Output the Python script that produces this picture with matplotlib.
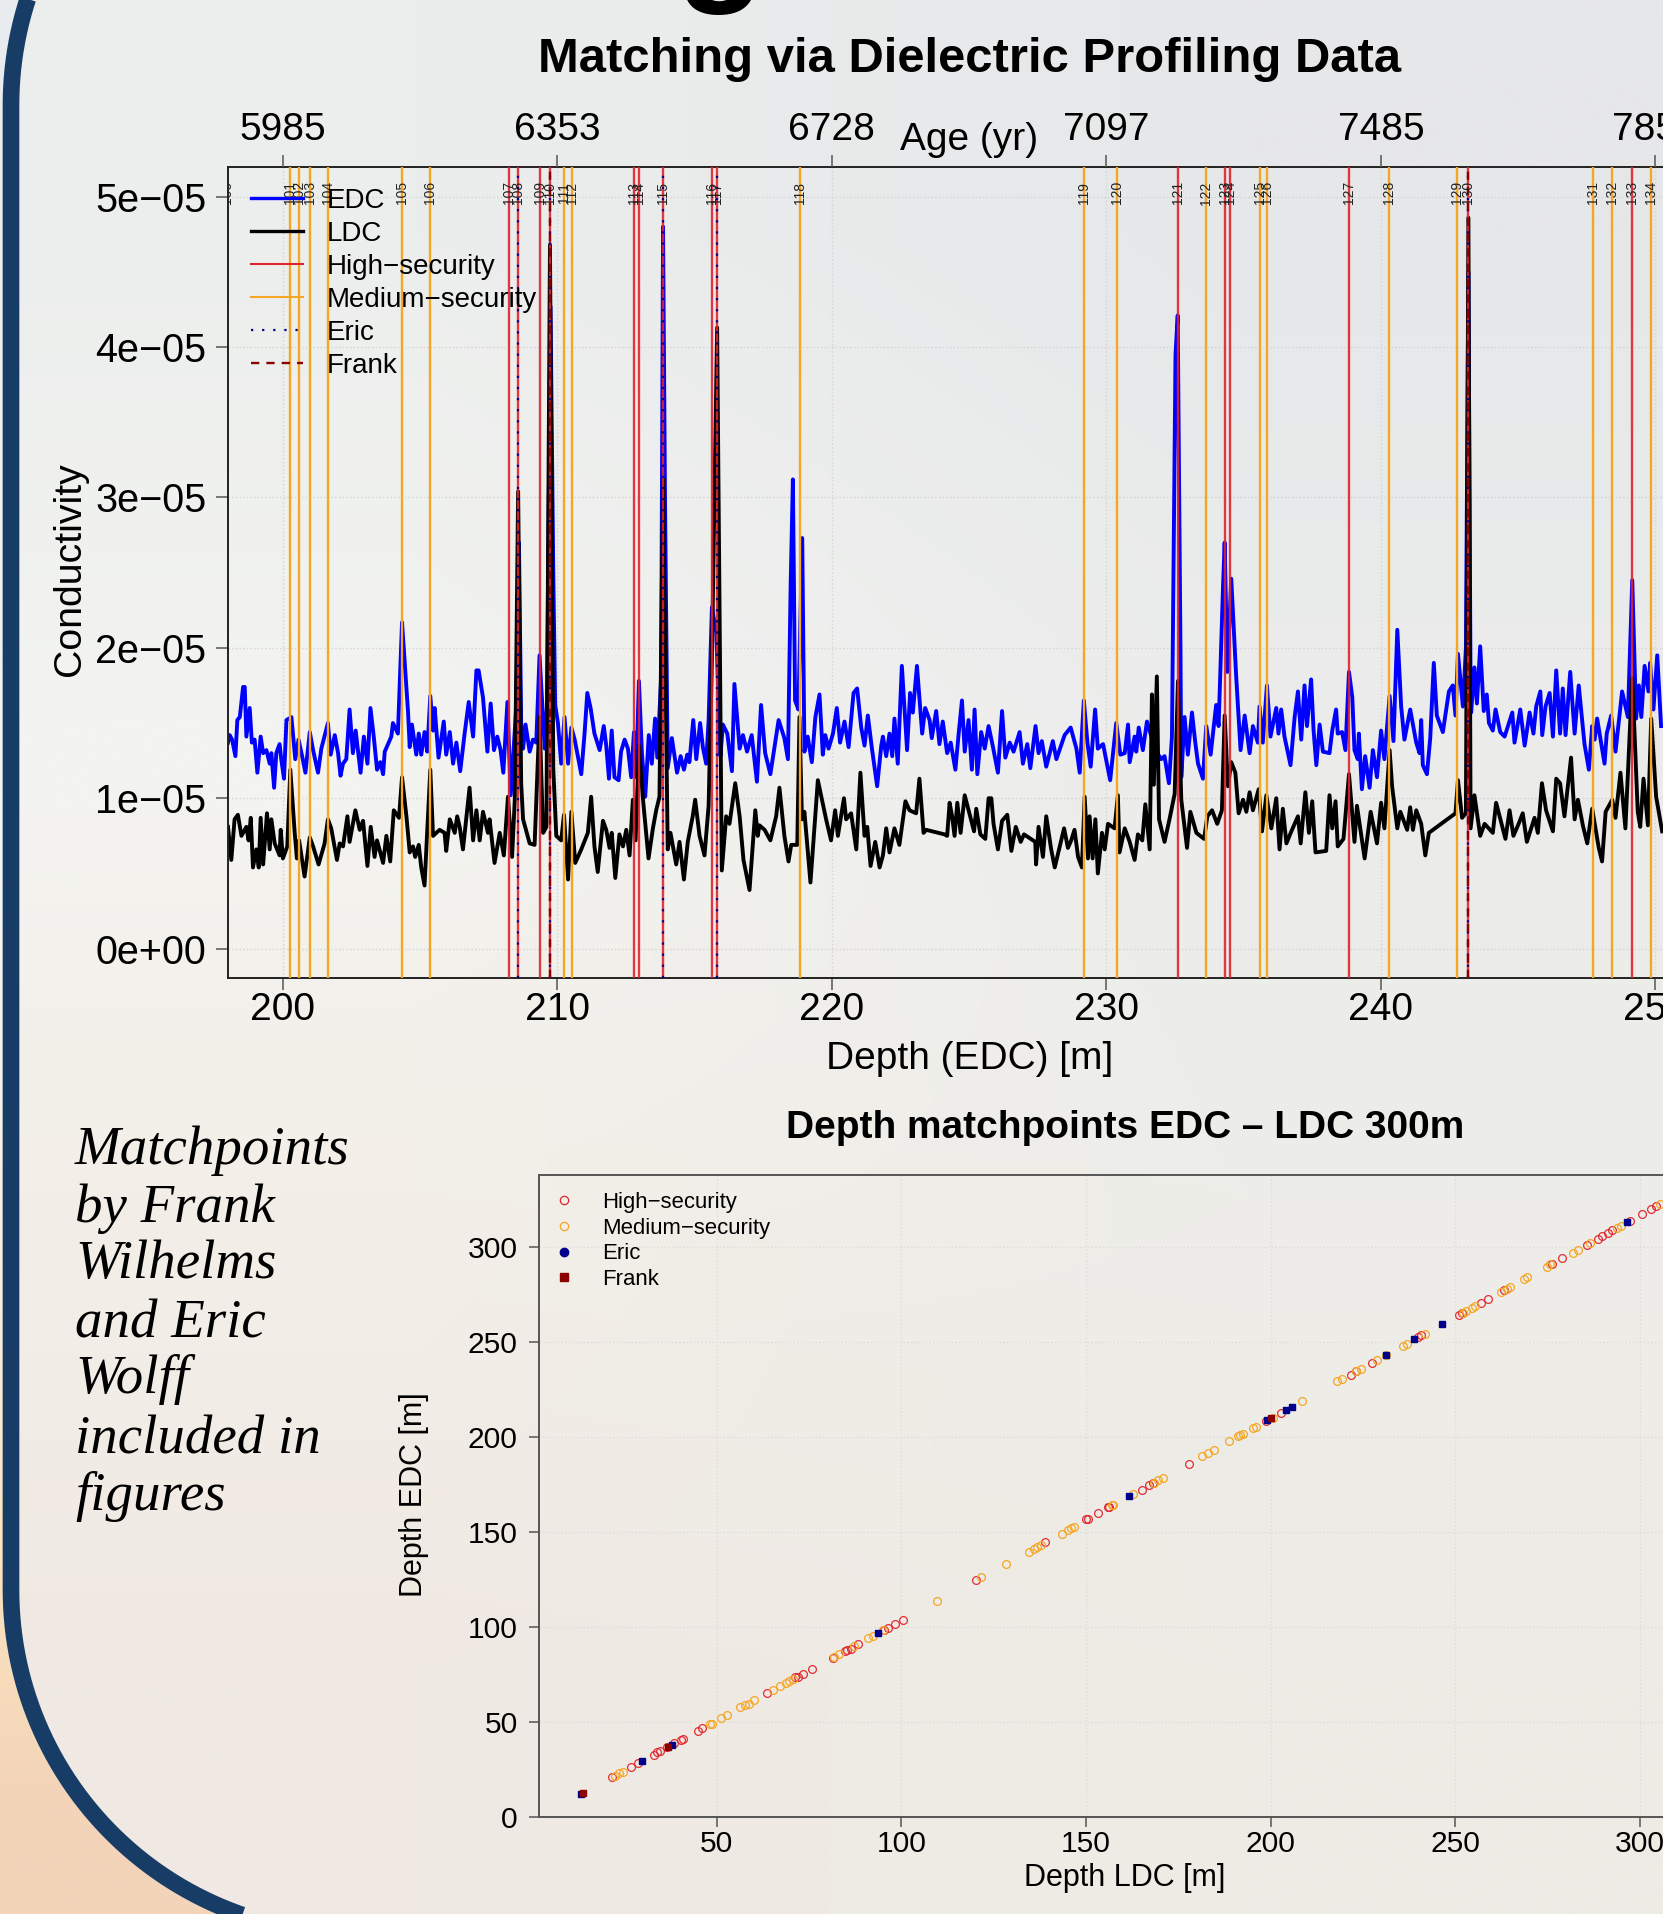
import matplotlib
matplotlib.use("Agg")
import matplotlib.pyplot as plt
from matplotlib.lines import Line2D
from matplotlib.path import Path
from matplotlib.patches import PathPatch
import numpy as np

# conductivity is in units of 1e-5
edc_depth = [198.00,198.06,198.15,198.27,198.34,198.43,198.55,198.61,198.67,198.79,198.87,198.97,199.07,199.19,199.28,199.40,199.52,199.58,199.68,199.76,199.88,199.94,200.04,200.13,200.31,200.45,200.57,200.70,200.82,200.98,201.10,201.28,201.40,201.64,201.74,201.89,202.01,202.10,202.19,202.31,202.43,202.55,202.65,202.83,202.95,203.08,203.19,203.31,203.43,203.55,203.65,203.71,203.95,204.01,204.19,204.34,204.56,204.62,204.70,204.86,204.95,205.04,205.16,205.26,205.37,205.47,205.53,205.67,205.86,205.95,206.08,206.20,206.32,206.46,206.62,206.77,206.93,207.05,207.13,207.29,207.45,207.57,207.69,207.81,207.93,208.03,208.18,208.30,208.50,208.60,208.68,208.75,208.84,208.99,209.11,209.23,209.35,209.54,209.62,209.75,209.85,209.92,210.02,210.14,210.26,210.39,210.51,210.63,210.87,210.99,211.09,
    211.21,211.35,211.54,211.69,211.78,211.88,211.98,212.08,212.23,212.32,212.45,212.57,212.69,212.79,212.87,212.97,213.08,213.20,213.33,213.44,213.56,213.64,213.78,213.85,213.92,214.02,214.17,214.36,214.49,214.61,214.73,214.81,214.95,215.06,215.20,215.30,215.42,215.51,215.63,215.79,215.94,216.03,216.19,216.36,216.45,216.64,216.76,216.91,217.08,217.27,217.42,217.57,217.76,218.06,218.27,218.40,218.50,218.58,218.66,218.78,218.92,219.00,219.12,219.27,219.40,219.55,219.67,219.76,219.88,220.04,220.18,220.30,220.46,220.61,220.79,220.92,221.07,221.19,221.31,221.46,221.65,221.80,221.86,221.98,222.10,222.20,222.28,222.40,222.55,222.74,222.85,222.95,223.10,223.29,223.40,223.56,223.64,223.80,223.92,224.04,224.20,
    224.33,224.50,224.62,224.74,224.84,224.98,225.10,225.20,225.30,225.44,225.57,225.71,225.87,226.05,226.20,226.32,226.48,226.62,226.84,226.96,227.12,227.23,227.42,227.53,227.65,227.81,228.05,228.18,228.48,228.70,228.91,229.03,229.18,229.31,229.43,229.59,229.69,229.88,230.14,230.36,230.51,230.67,230.79,230.85,231.03,231.09,231.18,231.33,231.48,231.64,231.82,232.00,232.12,232.28,232.39,232.52,232.60,232.70,232.73,232.85,232.97,233.12,233.24,233.34,233.52,233.64,233.80,234.00,234.09,234.25,234.31,234.41,234.55,234.73,234.89,235.04,235.22,235.34,235.52,235.58,235.70,235.85,235.98,236.19,236.27,236.37,236.49,236.71,236.86,236.98,237.10,237.22,
    237.31,237.46,237.55,237.65,237.77,237.89,238.13,238.23,238.37,238.43,238.59,238.71,238.84,238.96,239.04,239.16,239.20,239.31,239.43,239.59,239.71,239.86,240.01,240.13,240.32,240.46,240.60,240.74,240.86,241.07,241.29,241.41,241.47,241.53,241.68,241.80,241.93,242.04,242.26,242.48,242.62,242.72,242.81,242.99,243.10,243.19,243.27,243.29,243.41,243.50,243.62,243.75,243.86,243.94,244.08,244.18,244.35,244.51,244.79,244.87,245.08,245.24,245.42,245.56,245.66,245.81,245.88,246.00,246.15,246.27,246.39,246.53,246.63,246.73,246.90,247.06,247.21,247.42,247.58,247.70,247.79,247.88,248.15,248.23,248.39,248.55,248.79,249.00,249.16,249.30,249.40,249.49,249.61,249.75,249.81,249.93,250.07,250.21]
edc_cond = [1.37,1.42,1.39,1.28,1.52,1.54,1.74,1.74,1.41,1.60,1.37,1.39,1.17,1.41,1.30,1.32,1.23,1.30,1.07,1.30,1.36,1.26,1.13,1.52,1.54,1.26,1.39,1.28,1.17,1.44,1.32,1.17,1.33,1.50,1.29,1.42,1.30,1.15,1.23,1.26,1.59,1.30,1.45,1.17,1.41,1.23,1.60,1.41,1.19,1.24,1.16,1.31,1.41,1.50,1.43,2.17,1.57,1.34,1.49,1.29,1.43,1.29,1.44,1.31,1.68,1.45,1.60,1.27,1.51,1.29,1.44,1.23,1.37,1.18,1.43,1.64,1.41,1.85,1.85,1.67,1.31,1.63,1.32,1.41,1.32,1.17,1.64,1.02,1.60,2.70,1.50,1.33,1.49,1.31,1.39,1.37,1.95,1.33,1.60,4.27,2.50,1.62,1.50,1.23,1.54,1.23,1.47,1.39,1.16,1.43,1.70,
    1.60,1.43,1.32,1.48,1.35,1.13,1.45,1.14,1.12,1.31,1.39,1.33,1.14,1.44,1.14,1.78,1.30,1.01,1.42,1.23,1.53,1.27,1.80,4.80,3.00,1.20,1.40,1.17,1.28,1.19,1.29,1.24,1.52,1.26,1.50,1.34,1.23,1.52,2.27,2.10,1.28,1.49,1.43,1.18,1.76,1.33,1.42,1.31,1.42,1.11,1.62,1.30,1.16,1.52,1.40,1.26,2.43,3.12,1.65,1.59,2.73,1.31,1.41,1.24,1.54,1.69,1.29,1.42,1.33,1.43,1.60,1.37,1.51,1.34,1.70,1.73,1.47,1.35,1.55,1.33,1.08,1.35,1.41,1.28,1.43,1.28,1.53,1.23,1.88,1.32,1.70,1.57,1.88,1.43,1.60,1.52,1.40,1.58,1.36,1.51,1.30,
    1.37,1.19,1.43,1.65,1.31,1.52,1.19,1.59,1.16,1.44,1.33,1.48,1.34,1.17,1.58,1.27,1.37,1.31,1.44,1.23,1.36,1.20,1.48,1.30,1.38,1.21,1.38,1.26,1.42,1.47,1.33,1.17,1.65,1.37,1.21,1.59,1.33,1.36,1.12,1.50,1.29,1.30,1.49,1.24,1.41,1.31,1.47,1.32,1.51,1.41,1.31,1.26,1.28,1.10,1.41,3.95,4.21,2.00,1.14,1.54,1.29,1.57,1.37,1.23,1.13,1.48,1.29,1.62,1.48,2.40,2.70,1.84,2.46,1.81,1.32,1.55,1.30,1.48,1.37,1.61,1.37,1.75,1.41,1.60,1.43,1.59,1.41,1.22,1.54,1.71,1.39,1.75,
    1.48,1.79,1.45,1.22,1.49,1.31,1.30,1.45,1.59,1.43,1.44,1.32,1.84,1.67,1.32,1.26,1.43,1.06,1.28,1.07,1.32,1.14,1.45,1.26,1.68,1.38,2.12,1.61,1.39,1.59,1.37,1.30,1.52,1.22,1.16,1.40,1.90,1.55,1.44,1.71,1.75,1.55,1.96,1.61,2.00,4.50,1.70,1.57,1.87,1.63,2.01,1.58,1.69,1.50,1.45,1.59,1.44,1.41,1.57,1.37,1.59,1.35,1.57,1.43,1.61,1.71,1.42,1.61,1.70,1.41,1.85,1.43,1.73,1.42,1.84,1.43,1.75,1.36,1.19,1.48,1.39,1.53,1.23,1.43,1.55,1.31,1.71,1.54,2.45,1.53,1.75,1.54,1.88,1.71,1.90,1.59,1.95,1.48]

ldc_depth = [198.00,198.12,198.24,198.36,198.49,198.67,198.75,198.83,198.91,199.03,199.12,199.19,199.28,199.42,199.52,199.58,199.70,199.88,199.92,200.00,200.16,200.27,200.43,200.51,200.59,200.79,200.98,201.10,201.30,201.52,201.64,201.76,201.97,202.07,202.19,202.35,202.43,202.64,202.80,202.92,203.08,203.20,203.34,203.43,203.65,203.77,203.91,204.04,204.23,204.34,204.50,204.62,204.74,204.82,204.95,205.04,205.16,205.37,205.47,205.71,205.89,205.95,206.08,206.26,206.35,206.44,206.56,206.80,206.93,207.05,207.17,207.29,207.47,207.53,207.71,207.90,208.05,208.20,208.35,208.45,208.57,208.68,208.75,208.99,209.17,209.35,209.48,209.60,209.73,209.85,209.96,210.14,210.24,210.39,210.51,210.65,210.87,211.11,
    211.23,211.35,211.47,211.66,211.78,211.90,211.98,212.11,212.26,212.39,212.51,212.63,212.75,212.85,212.97,213.11,213.32,213.48,213.60,213.72,213.85,214.02,214.12,214.33,214.45,214.61,214.75,214.93,215.02,215.18,215.36,215.51,215.63,215.82,215.99,216.15,216.27,216.48,216.64,216.78,217.00,217.21,217.30,217.36,217.55,217.76,217.97,218.09,218.27,218.42,218.52,218.74,218.82,218.91,219.00,219.22,219.49,219.79,219.97,220.12,220.22,220.44,220.52,220.70,220.89,221.04,221.19,221.29,221.41,221.58,221.74,221.86,221.98,222.10,222.28,222.46,222.68,222.83,223.07,223.19,223.34,223.44,224.10,224.20,
    224.29,224.38,224.47,224.57,224.69,224.84,225.18,225.26,225.41,225.59,225.71,225.81,225.89,226.05,226.20,226.39,226.54,226.70,226.88,227.00,227.41,227.44,227.53,227.69,227.81,227.99,228.12,228.46,228.60,228.72,228.84,228.97,229.11,229.21,229.33,229.39,229.50,229.60,229.69,229.84,229.94,230.06,230.30,230.42,230.48,230.67,230.85,231.03,231.15,231.31,231.42,231.58,231.66,231.73,231.84,231.92,232.12,232.30,232.49,232.61,232.73,232.94,233.06,233.28,233.56,233.68,233.85,234.04,234.21,234.31,234.43,234.55,234.70,234.82,234.98,235.10,235.22,235.34,235.55,235.67,235.83,236.01,236.19,236.31,236.43,236.56,236.74,236.98,237.08,237.25,
    237.38,237.50,237.62,238.01,238.13,238.23,238.35,238.43,238.64,238.84,239.04,239.13,239.41,239.63,239.86,240.01,240.13,240.32,240.41,240.60,240.71,240.96,241.07,241.17,241.29,241.47,241.62,241.75,242.72,242.81,242.96,243.10,243.19,243.27,243.41,243.62,243.78,244.08,244.20,244.54,244.69,244.83,245.02,245.17,245.32,245.60,245.72,245.87,246.02,246.27,246.39,246.53,246.69,246.93,247.06,247.18,247.36,247.52,247.70,247.94,248.06,248.19,248.43,248.55,248.73,248.91,249.16,249.36,249.45,249.57,249.73,249.85,250.03,250.25]
ldc_cond = [0.81,0.59,0.86,0.89,0.75,0.81,0.72,0.87,0.54,0.66,0.54,0.87,0.56,0.90,0.66,0.86,0.70,0.62,0.79,0.60,0.68,1.19,0.77,0.60,0.72,0.48,0.74,0.68,0.56,0.70,0.86,0.80,0.59,0.70,0.68,0.88,0.71,0.92,0.79,0.85,0.55,0.81,0.61,0.72,0.57,0.75,0.58,0.92,0.87,1.14,0.88,0.64,0.68,0.61,0.69,0.54,0.42,1.19,0.75,0.79,0.77,0.65,0.86,0.77,0.88,0.81,0.66,1.07,0.72,0.92,0.72,0.91,0.77,0.86,0.57,0.77,0.62,1.01,0.61,1.00,3.04,1.10,0.86,0.70,0.69,1.54,0.77,0.81,4.68,1.20,0.75,0.72,0.89,0.46,0.91,0.57,0.66,0.77,
    1.01,0.68,0.51,0.85,0.79,0.67,0.77,0.47,0.76,0.68,0.79,0.62,0.99,0.72,1.35,1.01,0.60,0.80,0.92,1.01,3.12,0.66,0.77,0.56,0.71,0.46,0.71,0.88,0.99,0.75,0.62,0.95,1.92,4.13,0.52,0.88,0.83,1.10,0.88,0.59,0.39,0.92,0.75,0.82,0.79,0.72,0.88,1.07,0.75,0.58,0.69,0.69,1.54,0.86,0.91,0.44,1.12,0.86,0.72,0.92,0.75,1.00,0.86,0.90,0.66,1.17,0.75,0.81,0.55,0.71,0.54,0.62,0.80,0.64,0.80,0.69,0.98,0.92,0.90,1.13,0.77,0.79,0.76,0.75,
    0.97,0.88,0.75,0.97,0.77,1.02,0.78,0.93,0.76,0.73,1.00,1.00,0.83,0.66,0.85,0.89,0.65,0.81,0.71,0.76,0.71,0.56,0.81,0.61,0.88,0.66,0.54,0.80,0.67,0.72,0.79,0.61,0.54,1.01,0.60,0.88,0.60,0.86,0.50,0.77,0.66,0.83,0.80,1.02,0.64,0.80,0.71,0.59,0.76,0.72,0.96,0.66,1.69,1.09,1.81,0.86,0.71,0.86,1.03,1.78,0.99,0.67,0.91,0.77,0.73,0.88,0.92,0.83,0.92,1.55,1.08,1.24,1.17,0.90,0.99,0.91,1.04,0.92,1.06,0.78,1.02,0.80,1.00,0.66,0.93,0.70,0.78,0.88,0.70,1.04,
    0.77,0.98,0.64,0.65,1.02,0.80,0.98,0.68,0.73,1.16,0.71,0.95,0.60,0.91,0.70,0.97,0.80,1.32,1.08,0.80,0.91,0.79,0.94,0.79,0.92,0.83,0.62,0.77,0.90,1.12,0.87,0.90,4.86,0.80,1.02,0.75,0.83,0.77,0.97,0.73,0.92,0.75,0.83,0.90,0.71,0.87,0.77,1.10,0.92,0.78,1.13,1.10,0.88,1.27,0.86,0.99,0.82,0.70,0.93,0.67,0.58,0.91,0.99,0.87,1.17,0.80,1.80,0.91,0.81,1.13,0.82,1.53,1.01,0.78]

# matchpoint numbers and depths, in the upper panel
match_labels = ["100","101","102","103","104","105","106","107","108","109","110","111","112","113","114","115","116","117",
    "118","119","120","121","122","123","124","125","126","127","128","129","130","131","132","133","134"]
match_depth = [197.97,200.26,200.57,200.97,201.63,204.35,205.37,208.22,208.57,209.36,209.73,210.23,210.52,212.79,212.99,213.85,215.65,215.82,
    218.85,229.18,230.40,232.60,233.63,234.31,234.52,235.59,235.84,238.84,240.31,242.79,243.19,247.73,248.44,249.16,249.86]
high_depth = [208.22,208.57,209.36,209.73,212.79,212.99,213.85,215.65,215.82,232.60,234.31,234.52,238.84,243.19,249.16]
medium_depth = [200.26,200.57,200.97,201.63,204.35,205.37,210.23,210.52,218.85,229.18,230.40,233.63,235.59,235.84,240.31,242.79,247.73,248.44,249.86]
eric_depth = [208.57,209.73,213.85,215.82,243.19]
frank_depth = [209.73,243.19]
depth_ticks = [200,210,220,230,240,250]
age_labels = ["5985","6353","6728","7097","7485","7857"]
cond_ticks = [0,1,2,3,4,5]
cond_labels = ["0e+00","1e\u221205","2e\u221205","3e\u221205","4e\u221205","5e\u221205"]

# lower panel, LDC depth against EDC depth
high_ldc = [21.7,26.7,28.8,32.9,33.9,34.6,36.5,38.4,40.2,41.0,44.9,46.1,63.6,71.2,72.1,73.3,75.7,81.6,84.7,85.4,86.3,88.3,95.4,96.4,98.3,100.4,120.3,138.9,150.0,150.5,153.2,156.0,
    156.2,165.1,167.1,168.2,177.8,198.7,202.9,221.6,223.0,227.4,239.8,240.6,251.0,251.8,256.9,258.8,263.2,276.1,278.9,285.5,288.5,289.6,291.2,292.4,297.2,300.6,303.0,304.3]
high_edc = [20.8,26.3,28.5,32.6,34.3,34.5,36.7,38.7,40.6,41.1,45.4,46.6,65.0,73.4,73.7,75.4,77.8,83.8,87.4,87.9,88.6,91.1,98.3,99.5,101.4,103.6,124.9,144.7,156.5,156.7,159.9,162.8,
    163.0,172.2,174.5,175.5,185.9,208.3,212.7,232.5,234.4,238.8,252.5,253.3,264.0,264.9,270.2,272.6,277.0,291.0,294.2,300.7,304.2,305.6,307.3,308.6,313.5,317.3,320.0,321.4]
medium_ldc = [22.5,23.5,24.6,48.1,48.8,51.1,52.7,56.4,57.6,58.7,60.2,65.3,67.1,68.7,69.7,70.7,81.8,83.2,87.3,90.9,92.3,95.1,109.6,121.6,128.3,134.5,135.8,136.8,137.8,143.5,145.1,145.9,146.6,157.0,
    157.4,162.6,168.4,169.6,170.8,181.3,183.0,184.6,188.6,191.2,191.7,192.4,195.1,196.1,200.5,208.5,218.0,219.3,223.0,224.4,228.7,231.2,235.7,236.9,241.8,252.0,252.8,254.4,255.4,262.4,263.9,264.9,268.5,269.5,274.9,275.5,281.7,283.1,286.5,293.8,294.8,305.3]
medium_edc = [21.7,23.0,23.7,48.8,49.0,51.9,53.6,57.7,58.7,59.7,61.6,66.7,68.8,70.5,71.3,72.5,84.3,85.5,90.1,94.0,95.2,98.3,113.5,126.3,133.3,139.6,140.8,142.0,143.0,149.0,151.2,151.9,152.4,164.0,
    164.1,169.7,175.9,177.1,178.1,189.7,191.3,193.0,197.6,200.2,200.8,201.3,204.4,205.1,210.0,218.8,229.2,230.4,234.4,235.8,240.2,243.0,247.7,249.0,254.2,264.9,266.1,267.9,268.8,276.3,277.5,278.9,282.8,284.0,289.5,290.7,296.5,298.2,302.1,310.0,310.9,322.6]
eric_ldc = [13.2,29.8,37.8,93.7,161.6,199.0,204.0,205.7,231.3,238.9,246.5,296.4]
eric_edc = [12.1,29.7,37.7,96.6,169.1,208.6,213.9,215.8,243.2,251.2,259.1,313.0]
frank_ldc = [13.7,36.7,200.0]
frank_edc = [12.6,36.7,209.7]

note_lines = ["Matchpoints","by Frank","Wilhelms","and Eric","Wolff","included in","figures"]
note_baselines = [1164,1222,1278,1337,1393,1453,1510]

W, H = 1663, 1914
RED = "#e0242c"
ORANGE = "#f5a623"
NAVY = "#00008b"
DARKRED = "#8b0000"
GREY = "#555555"

plt.rcParams["font.family"] = ["Liberation Sans", "DejaVu Sans"]

def px(x0, y0, x1, y1):
    """axes rectangle from pixel edges"""
    return [x0 / W, 1 - y1 / H, (x1 - x0) / W, (y1 - y0) / H]

fig = plt.figure(figsize=(W / 100, H / 100), dpi=100)

# slide behind the charts
bg = fig.add_axes([0, 0, 1, 1], zorder=-1)
bg.set_xlim(0, W)
bg.set_ylim(H, 0)
bg.axis("off")
sky = np.array([[[232, 236, 238]], [[236, 240, 240]], [[240, 242, 240]], [[245, 245, 240]], [[245, 243, 235]],
                [[248, 238, 220]], [[252, 228, 190]], [[243, 212, 185]]], dtype=float) / 255
bg.imshow(sky, extent=[0, W, H, 0], aspect="auto", interpolation="bilinear")
panel_colors = np.array([[[236, 238, 237], [230, 231, 233]],
                         [[243, 244, 241], [235, 236, 235]],
                         [[243, 239, 232], [237, 237, 233]],
                         [[240, 233, 227], [238, 235, 229]]], dtype=float) / 255
panel_img = bg.imshow(panel_colors, extent=[0, W, H, 0], aspect="auto", interpolation="bilinear")
t = np.linspace(0, np.pi / 2, 60)
R = 344
top_x = 11 + R - R * np.cos(t)
top_y = 105 - R * np.sin(t)
bot_x = 11 + R - R * np.cos(t)
bot_y = 1590 + R * np.sin(t)
outline = np.vstack([[[2200, -239]], np.column_stack([top_x, top_y])[::-1], np.column_stack([bot_x, bot_y]), [[2200, 1934]], [[2200, -239]]])
panel = PathPatch(Path(outline), facecolor="none", edgecolor="#173d66", linewidth=12, zorder=3)
bg.add_patch(panel)
panel_img.set_clip_path(panel)
bg.set_xlim(0, W)
bg.set_ylim(H, 0)

# cut-off big title, only the tail of the g is on the slide
fig.text(721 / W, 1 + 16 / H, "g", fontsize=105, fontweight="bold", ha="center", va="baseline", color="black")
fig.text(969.5 / W, 1 - 59 / H, "Matching via Dielectric Profiling Data", fontsize=35.3, fontweight="bold", ha="center", va="center")

# upper panel
ax = fig.add_axes(px(228, 167, 1663, 978), facecolor="none")
ax.grid(True, linestyle=":", color="#d4d4d4", linewidth=1)
ax.set_axisbelow(True)
ax.plot(edc_depth, edc_cond, color="#0000ff", linewidth=2.8, solid_joinstyle="round", zorder=2)
ax.plot(ldc_depth, ldc_cond, color="black", linewidth=2.8, solid_joinstyle="round", zorder=2.1)
for d in high_depth:
    ax.axvline(d, color=RED, linewidth=1.7, alpha=0.9, zorder=3)
for d in medium_depth:
    ax.axvline(d, color=ORANGE, linewidth=1.7, zorder=3)
for d in eric_depth:
    ax.axvline(d, color=NAVY, linewidth=1.6, linestyle=(0, (1, 4)), zorder=4)
for d in frank_depth:
    ax.axvline(d, color=DARKRED, linewidth=1.7, linestyle=(0, (3.5, 3)), zorder=4)
for name, d in zip(match_labels, match_depth):
    ax.text(d, 5.025, name, rotation=90, fontsize=10, color="#222222", ha="center", va="center", zorder=5, clip_on=True)
ax.set_xlim(198.0, 250.28)
ax.set_ylim(-0.195, 5.197)
ax.set_xticks(depth_ticks)
ax.set_yticks(cond_ticks)
ax.set_yticklabels(cond_labels)
ax.tick_params(axis="both", length=8.6, width=1.1, color=GREY, labelsize=28.5, pad=7)
ax.tick_params(axis="x", pad=1.7, labelsize=28)
ax.spines["right"].set_visible(False)
for s in ["left", "bottom", "top"]:
    ax.spines[s].set_linewidth(1.4)
    ax.spines[s].set_color("#222222")
fig.text(70 / W, 1 - 569 / H, "Conductivity", fontsize=28.3, rotation=90, ha="center", va="center")
fig.text(969.5 / W, 1 - 1059 / H, "Depth (EDC) [m]", fontsize=28, ha="center", va="center")
fig.text(969.5 / W, 1 - 140 / H, "Age (yr)", fontsize=28, ha="center", va="center")

top = ax.twiny()
top.set_xlim(ax.get_xlim())
top.set_xticks(depth_ticks)
top.set_xticklabels(age_labels)
top.tick_params(axis="x", length=8.6, width=1.1, color=GREY, labelsize=28, pad=5.4)
top.patch.set_visible(False)
for s in top.spines.values():
    s.set_visible(False)

handles = [Line2D([], [], color="#0000ff", linewidth=2.4),
           Line2D([], [], color="black", linewidth=2.4),
           Line2D([], [], color=RED, linewidth=1.5),
           Line2D([], [], color=ORANGE, linewidth=1.5),
           Line2D([], [], color=NAVY, linewidth=1.6, linestyle=(0, (1, 4))),
           Line2D([], [], color=DARKRED, linewidth=1.7, linestyle=(0, (3.5, 3)))]
leg = ax.legend(handles, ["EDC", "LDC", "High\u2212security", "Medium\u2212security", "Eric", "Frank"],
                loc="upper left", bbox_to_anchor=(251 / W, 1 - 188 / H), bbox_transform=fig.transFigure,
                frameon=False, fontsize=20, borderpad=0, borderaxespad=0, handlelength=1.87, handletextpad=0.86, labelspacing=0.25)
leg.set_zorder(6)

# lower panel
ax2 = fig.add_axes(px(538.5, 1174.6, 1663, 1817), facecolor="none")
ax2.grid(True, linestyle=":", color="#dcdcdc", linewidth=1)
ax2.set_axisbelow(True)
ax2.plot(high_ldc, high_edc, linestyle="none", marker="o", markersize=5.6, markerfacecolor="none", markeredgecolor=RED, markeredgewidth=0.9, alpha=0.95)
ax2.plot(medium_ldc, medium_edc, linestyle="none", marker="o", markersize=5.6, markerfacecolor="none", markeredgecolor=ORANGE, markeredgewidth=0.9)
ax2.plot(eric_ldc, eric_edc, linestyle="none", marker="s", markersize=5, color=NAVY)
ax2.plot(frank_ldc, frank_edc, linestyle="none", marker="s", markersize=4.6, color=DARKRED)
ax2.set_xlim(1.75, 306.2)
ax2.set_ylim(0, 337.9)
ax2.set_xticks([50, 100, 150, 200, 250, 300])
ax2.set_yticks([0, 50, 100, 150, 200, 250, 300])
ax2.tick_params(axis="both", length=7.5, width=1.1, color=GREY, labelsize=21.6, pad=7.5)
ax2.tick_params(axis="x", pad=1.5)
ax2.spines["right"].set_visible(False)
for s in ["left", "bottom", "top"]:
    ax2.spines[s].set_linewidth(1.4)
    ax2.spines[s].set_color(GREY)
fig.text(414 / W, 1 - 1495 / H, "Depth EDC [m]", fontsize=22, rotation=90, ha="center", va="center")
fig.text(1125 / W, 1 - 1878 / H, "Depth LDC [m]", fontsize=22, ha="center", va="center")
fig.text(1125 / W, 1 - 1128 / H, "Depth matchpoints EDC \u2013 LDC 300m", fontsize=28, fontweight="bold", ha="center", va="center")

handles2 = [Line2D([], [], linestyle="none", marker="o", markersize=6, markerfacecolor="none", markeredgecolor=RED, markeredgewidth=0.9),
            Line2D([], [], linestyle="none", marker="o", markersize=6, markerfacecolor="none", markeredgecolor=ORANGE, markeredgewidth=0.9),
            Line2D([], [], linestyle="none", marker="o", markersize=6, color=NAVY),
            Line2D([], [], linestyle="none", marker="s", markersize=5.4, color=DARKRED)]
ax2.legend(handles2, ["High\u2212security", "Medium\u2212security", "Eric", "Frank"],
           loc="upper left", bbox_to_anchor=(552 / W, 1 - 1192 / H), bbox_transform=fig.transFigure,
           frameon=False, fontsize=15.9, borderpad=0, borderaxespad=0, handlelength=1.1, handletextpad=1.18, labelspacing=0.21)

# text to the left of the lower panel
for line, base in zip(note_lines, note_baselines):
    fig.text(75 / W, 1 - base / H, line, fontsize=39.5, fontstyle="italic", family="Liberation Serif", ha="left", va="baseline")

fig.savefig("out.png", dpi=100)
